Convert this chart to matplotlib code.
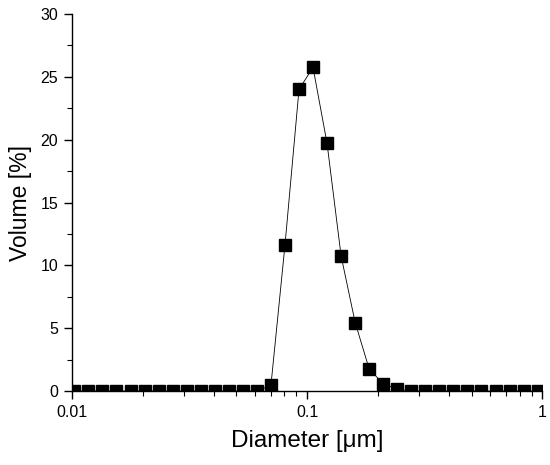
import matplotlib
matplotlib.use("Agg")
import matplotlib.pyplot as plt
from matplotlib.ticker import LogLocator, FixedLocator, MultipleLocator, NullFormatter, FixedFormatter

diameter_um = [0.01023, 0.01174, 0.01347, 0.01545, 0.01773, 0.02034, 0.02334,
               0.02678, 0.03073, 0.03525, 0.04046, 0.04642, 0.05326, 0.06110,
               0.07012, 0.08045, 0.09232, 0.1059, 0.1215, 0.1394, 0.1600,
               0.1836, 0.2106, 0.2416, 0.2773, 0.3181, 0.3650, 0.4188,
               0.4805, 0.5513, 0.6324, 0.7257, 0.8326, 0.9552]
volume_pct = [0, 0, 0, 0, 0, 0, 0,
              0, 0, 0, 0, 0, 0, 0,
              0.45, 11.6, 24.0, 25.75, 19.7, 10.75, 5.45,
              1.75, 0.58, 0.15, 0, 0, 0, 0,
              0, 0, 0, 0, 0, 0]

x_ticks = [0.01, 0.1, 1]
x_tick_labels = ["0.01", "0.1", "1"]
y_ticks = [0, 5, 10, 15, 20, 25, 30]

plt.rcParams['font.family'] = ['Liberation Sans', 'DejaVu Sans']

fig = plt.figure(figsize=(5.5, 4.65), dpi=100)
ax = fig.add_axes([0.131, 0.159, 0.855, 0.811])

ax.plot(diameter_um, volume_pct, color='black', linewidth=0.6,
        marker='s', markersize=8, markerfacecolor='black',
        markeredgecolor='black', clip_on=True, zorder=3)

ax.set_xscale('log')
ax.set_xlim(0.01, 1)
ax.set_ylim(0, 30)

ax.xaxis.set_major_locator(FixedLocator(x_ticks))
ax.xaxis.set_major_formatter(FixedFormatter(x_tick_labels))
ax.xaxis.set_minor_locator(LogLocator(base=10, subs=range(2, 10)))
ax.xaxis.set_minor_formatter(NullFormatter())
ax.yaxis.set_major_locator(FixedLocator(y_ticks))
ax.yaxis.set_minor_locator(MultipleLocator(2.5))

for side in ['top', 'right']:
    ax.spines[side].set_visible(False)
for side in ['left', 'bottom']:
    ax.spines[side].set_linewidth(1.0)

ax.tick_params(axis='both', which='major', direction='out', length=6,
               width=1.0, labelsize=11.5, pad=4)
ax.tick_params(axis='both', which='minor', direction='out', length=3.5,
               width=0.8)

ax.set_xlabel('Diameter [μm]', fontsize=17.5, labelpad=7)
ax.set_ylabel('Volume [%]', fontsize=16.5, labelpad=6)

fig.savefig('out.png', dpi=100)
